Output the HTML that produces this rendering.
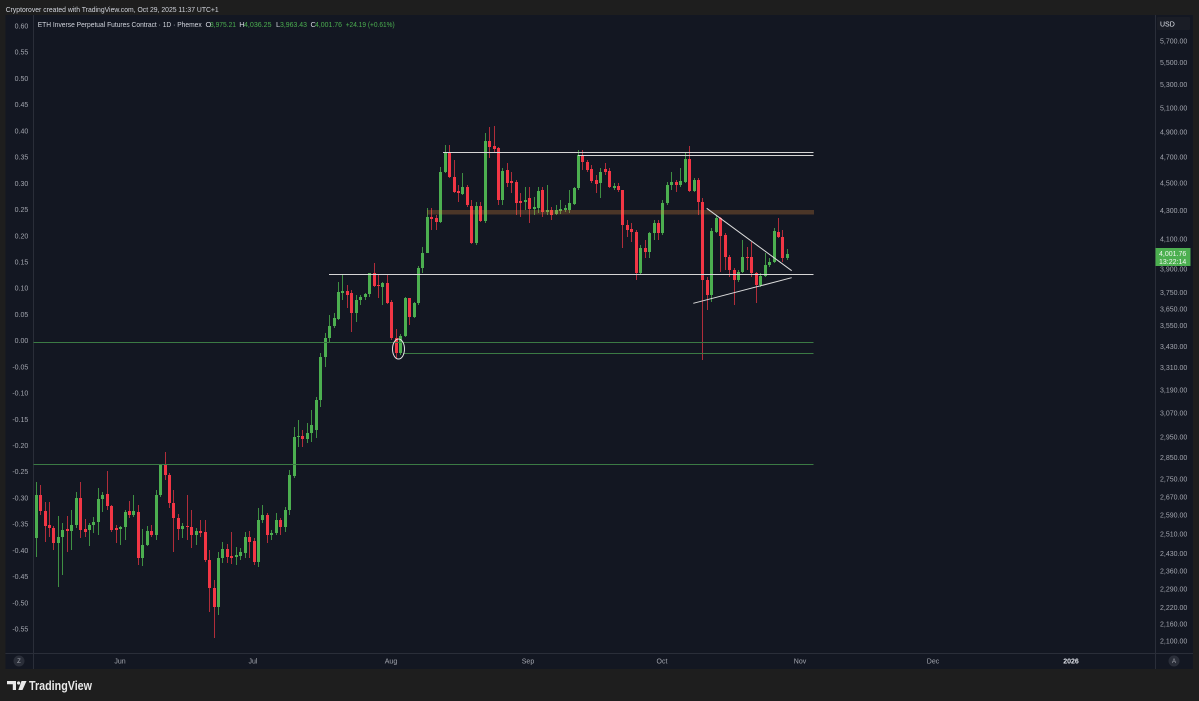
<!DOCTYPE html>
<html><head><meta charset="utf-8"><style>
html,body{margin:0;padding:0;background:#1e1e1e;}
svg{display:block;}
</style></head><body>
<svg width="1199" height="701" viewBox="0 0 1199 701" xmlns="http://www.w3.org/2000/svg" font-family="'Liberation Sans', Arial, sans-serif">
<rect x="0" y="0" width="1199" height="701" fill="#1e1e1e"/>
<rect x="5.5" y="15" width="1187.5" height="654" fill="#131722"/>
<!-- separators -->
<path d="M33.5 15V669M1155.5 15V669M5.5 653.5H1193" stroke="#2a2e39" stroke-width="1" fill="none"/>

<!-- credit -->
<text x="5.7" y="12" font-size="7.5" fill="#d1d4dc" textLength="213" lengthAdjust="spacingAndGlyphs">Cryptorover created with TradingView.com, Oct 29, 2025 11:37 UTC+1</text>
<!-- header -->
<text x="37.7" y="27" font-size="7.5" fill="#d1d4dc" textLength="164" lengthAdjust="spacingAndGlyphs">ETH Inverse Perpetual Futures Contract · 1D · Phemex</text>
<g font-size="7.5">
<text x="205.5" y="27" fill="#d1d4dc">O</text><text x="210" y="27" fill="#4caf50" textLength="26" lengthAdjust="spacingAndGlyphs">3,975.21</text>
<text x="239.3" y="27" fill="#d1d4dc">H</text><text x="244" y="27" fill="#4caf50" textLength="27.5" lengthAdjust="spacingAndGlyphs">4,036.25</text>
<text x="276" y="27" fill="#d1d4dc">L</text><text x="280" y="27" fill="#4caf50" textLength="27" lengthAdjust="spacingAndGlyphs">3,963.43</text>
<text x="310.5" y="27" fill="#d1d4dc">C</text><text x="315" y="27" fill="#4caf50" textLength="27" lengthAdjust="spacingAndGlyphs">4,001.76</text>
<text x="345.7" y="27" fill="#4caf50" textLength="49" lengthAdjust="spacingAndGlyphs">+24.19 (+0.61%)</text>
</g>

<!-- left axis -->
<g font-size="7" fill="#a3a6af" text-anchor="end">
<text x="28.3" y="28.5">0.60</text>
<text x="28.3" y="54.7">0.55</text>
<text x="28.3" y="80.9">0.50</text>
<text x="28.3" y="107.2">0.45</text>
<text x="28.3" y="133.4">0.40</text>
<text x="28.3" y="159.6">0.35</text>
<text x="28.3" y="185.8">0.30</text>
<text x="28.3" y="212">0.25</text>
<text x="28.3" y="238.3">0.20</text>
<text x="28.3" y="264.5">0.15</text>
<text x="28.3" y="290.7">0.10</text>
<text x="28.3" y="316.9">0.05</text>
<text x="28.3" y="343.1">0.00</text>
<text x="28.3" y="369.4">-0.05</text>
<text x="28.3" y="395.6">-0.10</text>
<text x="28.3" y="421.8">-0.15</text>
<text x="28.3" y="448">-0.20</text>
<text x="28.3" y="474.2">-0.25</text>
<text x="28.3" y="500.5">-0.30</text>
<text x="28.3" y="526.7">-0.35</text>
<text x="28.3" y="552.9">-0.40</text>
<text x="28.3" y="579.1">-0.45</text>
<text x="28.3" y="605.3">-0.50</text>
<text x="28.3" y="631.6">-0.55</text>
</g>

<!-- right axis -->
<rect x="1157" y="17" width="33" height="13" rx="1" fill="#1a1d26"/>
<text x="1160" y="26.3" font-size="7" fill="#e0e3eb">USD</text>
<g font-size="7" fill="#a3a6af">
<text x="1160" y="43.5">5,700.00</text>
<text x="1160" y="65">5,500.00</text>
<text x="1160" y="87.2">5,300.00</text>
<text x="1160" y="110.4">5,100.00</text>
<text x="1160" y="134.4">4,900.00</text>
<text x="1160" y="159.4">4,700.00</text>
<text x="1160" y="185.6">4,500.00</text>
<text x="1160" y="212.9">4,300.00</text>
<text x="1160" y="241.5">4,100.00</text>
<text x="1160" y="271.6">3,900.00</text>
<text x="1160" y="295.1">3,750.00</text>
<text x="1160" y="311.4">3,650.00</text>
<text x="1160" y="328.1">3,550.00</text>
<text x="1160" y="348.8">3,430.00</text>
<text x="1160" y="370.2">3,310.00</text>
<text x="1160" y="392.4">3,190.00</text>
<text x="1160" y="415.4">3,070.00</text>
<text x="1160" y="439.4">2,950.00</text>
<text x="1160" y="460.1">2,850.00</text>
<text x="1160" y="481.6">2,750.00</text>
<text x="1160" y="499.3">2,670.00</text>
<text x="1160" y="517.6">2,590.00</text>
<text x="1160" y="536.4">2,510.00</text>
<text x="1160" y="555.9">2,430.00</text>
<text x="1160" y="573.5">2,360.00</text>
<text x="1160" y="591.6">2,290.00</text>
<text x="1160" y="610.2">2,220.00</text>
<text x="1160" y="626.7">2,160.00</text>
<text x="1160" y="643.6">2,100.00</text>
</g>
<rect x="1155.5" y="248" width="35" height="18" fill="#4caf50"/>
<text x="1159" y="255.8" font-size="7" fill="#eef8ee">4,001.76</text>
<text x="1159" y="263.8" font-size="7" fill="#eef8ee">13:22:14</text>

<!-- time axis -->
<g font-size="7" fill="#a3a6af" text-anchor="middle">
<text x="120" y="663.5">Jun</text>
<text x="253" y="663.5">Jul</text>
<text x="391" y="663.5">Aug</text>
<text x="528" y="663.5">Sep</text>
<text x="662" y="663.5">Oct</text>
<text x="800" y="663.5">Nov</text>
<text x="933" y="663.5">Dec</text>
<text x="1071" y="663.5" fill="#e0e3eb" font-weight="bold">2026</text>
</g>
<circle cx="19" cy="661" r="5.5" fill="#2a2e39"/>
<text x="19" y="663.2" font-size="6" fill="#a3a6af" text-anchor="middle">Z</text>
<circle cx="1174" cy="661" r="5.5" fill="#2a2e39"/>
<text x="1174" y="663.2" font-size="6" fill="#a3a6af" text-anchor="middle">A</text>

<!-- candles: wicks -->
<path fill="none" stroke="#3f8f43" stroke-width="1" d="M36.5 482V557M58.5 516V587M62.5 523V575M71.5 510V550M76.5 492V528M89.5 523V546M93.5 517V533M98.5 488V535M102.5 492V512M120.5 526V545M125.5 510V540M133.5 495V517M142.5 529V566M147.5 526V546M156.5 490V540M160.5 464V497M182.5 523V538M196.5 528V545M218.5 552V615M222.5 542V563M236.5 547V565M240.5 548V560M245.5 532V558M258.5 508V567M262.5 505V523M271.5 530V540M276.5 513V535M285.5 507V532M289.5 470V515M294.5 427V478M298.5 420V447M307.5 423V443M311.5 410V442M316.5 397V438M320.5 353V407M325.5 333V367M329.5 315V342M334.5 313V328M338.5 282V320M342.5 275V300M356.5 295V322M360.5 295V305M365.5 293V300M369.5 273V297M382.5 282V305M400.5 334V355M405.5 297V337M414.5 302V318M418.5 266V305M422.5 247V273M427.5 208V253M440.5 167V223M445.5 145V173M462.5 173V195M476.5 202V245M485.5 133V223M502.5 168V205M525.5 187V210M534.5 197V215M538.5 187V213M547.5 185V215M556.5 205V215M560.5 200V214M565.5 205V212M569.5 190V213M574.5 187V205M578.5 150V190M600.5 168V198M614.5 183V190M640.5 245V275M649.5 232V258M654.5 220V240M662.5 200V235M667.5 182V205M671.5 172V190M680.5 168V187M685.5 153V183M694.5 178V192M711.5 228V302M716.5 215V233M738.5 270V282M742.5 240V273M760.5 273V287M765.5 253V277M769.5 258V267M774.5 228V263M787.5 249V260"/>
<path fill="none" stroke="#b02d3a" stroke-width="1" d="M40.5 485V515M45.5 502V542M49.5 502V537M53.5 526V550M67.5 516V552M80.5 482V538M85.5 519V537M107.5 471V510M111.5 505V532M116.5 525V543M129.5 501V518M138.5 505V565M151.5 525V537M165.5 452V480M169.5 473V508M173.5 490V552M178.5 514V540M187.5 495V540M191.5 510V548M200.5 520V537M205.5 520V562M209.5 550V612M214.5 580V638M227.5 544V563M231.5 532V564M249.5 531V558M254.5 538V565M267.5 513V543M280.5 518V535M302.5 430V447M347.5 285V308M351.5 290V332M374.5 263V287M378.5 275V298M387.5 274V304M391.5 300V340M396.5 329V359M409.5 298V325M431.5 208V230M436.5 215V230M449.5 145V178M454.5 160V193M458.5 185V202M467.5 185V207M471.5 200V244M480.5 202V222M489.5 127V158M494.5 126V153M498.5 147V205M507.5 163V187M511.5 172V193M516.5 180V215M520.5 193V217M529.5 187V223M542.5 187V217M551.5 207V220M582.5 150V170M587.5 160V172M591.5 165V183M596.5 175V193M605.5 163V175M609.5 168V188M618.5 183V192M622.5 190V248M627.5 220V237M631.5 223V242M636.5 230V280M645.5 240V258M658.5 220V240M676.5 180V192M689.5 146V192M698.5 178V215M702.5 198V360M707.5 277V310M720.5 217V272M725.5 233V270M729.5 255V277M734.5 268V305M747.5 247V270M751.5 242V277M756.5 272V303M778.5 218V238M782.5 230V262"/>
<!-- candles: bodies -->
<path fill="#4caf50" d="M35 495h3v43h-3zM57 537h3v6h-3zM61 530h3v7h-3zM70 525h3v6h-3zM75 498h3v27h-3zM88 525h3v5h-3zM92 522h3v3h-3zM97 499h3v23h-3zM101 495h3v4h-3zM119 527h3v2h-3zM124 512h3v15h-3zM132 511h3v4h-3zM141 545h3v13h-3zM146 531h3v14h-3zM155 495h3v40h-3zM159 465h3v30h-3zM181 526h3v3h-3zM195 531h3v4h-3zM217 558h3v49h-3zM221 549h3v9h-3zM235 555h3v2h-3zM239 552h3v4h-3zM244 537h3v16h-3zM257 520h3v42h-3zM261 515h3v5h-3zM270 533h3v2h-3zM275 520h3v13h-3zM284 510h3v17h-3zM288 475h3v35h-3zM293 437h3v39h-3zM297 436h3v1h-3zM306 433h3v6h-3zM310 425h3v8h-3zM315 400h3v30h-3zM319 357h3v43h-3zM324 338h3v19h-3zM328 326h3v12h-3zM333 318h3v8h-3zM337 292h3v27h-3zM341 291h3v2h-3zM355 300h3v13h-3zM359 297h3v3h-3zM364 294h3v3h-3zM368 273h3v21h-3zM381 283h3v4h-3zM399 336h3v17h-3zM404 298h3v38h-3zM413 303h3v14h-3zM417 268h3v35h-3zM421 253h3v15h-3zM426 217h3v36h-3zM439 172h3v50h-3zM444 152h3v20h-3zM461 187h3v7h-3zM475 206h3v37h-3zM484 141h3v80h-3zM501 171h3v29h-3zM524 200h3v2h-3zM533 207h3v2h-3zM537 191h3v17h-3zM546 210h3v2h-3zM555 210h3v4h-3zM559 209h3v2h-3zM564 208h3v2h-3zM568 203h3v7h-3zM573 188h3v16h-3zM577 155h3v33h-3zM599 172h3v11h-3zM613 186h3v2h-3zM639 248h3v25h-3zM648 233h3v19h-3zM653 223h3v10h-3zM661 203h3v30h-3zM666 185h3v18h-3zM670 182h3v3h-3zM679 181h3v4h-3zM684 159h3v23h-3zM693 180h3v11h-3zM710 231h3v64h-3zM715 218h3v14h-3zM737 272h3v8h-3zM741 257h3v15h-3zM759 276h3v9h-3zM764 265h3v11h-3zM768 262h3v3h-3zM773 231h3v31h-3zM786 254h3v4h-3z"/>
<path fill="#f23645" d="M39 495h3v16h-3zM44 511h3v15h-3zM48 525h3v3h-3zM52 528h3v15h-3zM66 529h3v2h-3zM79 498h3v32h-3zM84 529h3v3h-3zM106 494h3v12h-3zM110 506h3v24h-3zM115 528h3v2h-3zM128 511h3v4h-3zM137 512h3v46h-3zM150 531h3v4h-3zM164 465h3v10h-3zM168 475h3v28h-3zM172 503h3v15h-3zM177 518h3v11h-3zM186 526h3v1h-3zM190 527h3v8h-3zM199 531h3v2h-3zM204 532h3v28h-3zM208 560h3v28h-3zM213 588h3v19h-3zM226 549h3v8h-3zM230 556h3v2h-3zM248 537h3v5h-3zM253 541h3v21h-3zM266 515h3v20h-3zM279 520h3v7h-3zM301 436h3v3h-3zM346 291h3v4h-3zM350 293h3v20h-3zM373 273h3v13h-3zM377 285h3v1h-3zM386 283h3v20h-3zM390 302h3v36h-3zM395 338h3v15h-3zM408 298h3v19h-3zM430 217h3v2h-3zM435 218h3v4h-3zM448 152h3v25h-3zM453 177h3v15h-3zM457 191h3v2h-3zM466 187h3v18h-3zM470 206h3v37h-3zM479 206h3v15h-3zM488 141h3v6h-3zM493 146h3v3h-3zM497 148h3v52h-3zM506 170h3v13h-3zM510 181h3v2h-3zM515 182h3v21h-3zM519 201h3v2h-3zM528 198h3v11h-3zM541 190h3v22h-3zM550 210h3v5h-3zM581 155h3v7h-3zM586 162h3v8h-3zM590 169h3v12h-3zM595 180h3v4h-3zM604 169h3v3h-3zM608 171h3v16h-3zM617 186h3v4h-3zM621 190h3v35h-3zM626 225h3v5h-3zM630 229h3v3h-3zM635 232h3v41h-3zM644 248h3v4h-3zM657 223h3v10h-3zM675 182h3v3h-3zM688 159h3v32h-3zM697 180h3v22h-3zM701 202h3v78h-3zM706 280h3v15h-3zM719 218h3v18h-3zM724 235h3v22h-3zM728 257h3v13h-3zM733 270h3v10h-3zM746 257h3v1h-3zM750 257h3v16h-3zM755 273h3v12h-3zM777 232h3v5h-3zM781 237h3v21h-3z"/>

<!-- drawings -->
<rect x="427" y="210" width="387" height="4.5" fill="rgba(230,140,60,0.27)"/>
<path fill="none" stroke="#3b7a44" stroke-width="1" d="M33.5 342.5H813.5M403 353.5H813.5M33.5 464.5H813.5"/>
<path fill="none" stroke="#d6d6d6" stroke-width="1" d="M329 274.5H813.5M443 152.5H813.5M578 155.5H813.5"/>
<path fill="none" stroke="#dcdcdc" stroke-width="1" d="M706.7 208.3L791.7 270.7M693.3 303.3L791.7 277.7"/>
<ellipse cx="398.5" cy="349" rx="6" ry="10" fill="none" stroke="#e0e0e0" stroke-width="1"/>

<!-- logo -->
<g fill="#e8e8e8">
<path d="M7 681h9v9h-3.2v-5.8H7z"/>
<circle cx="18.6" cy="683" r="1.6"/>
<path d="M21.5 681h5l-4 9h-4.2z"/>
</g>
<text x="29" y="690" font-size="13" font-weight="bold" fill="#e8e8e8" textLength="63" lengthAdjust="spacingAndGlyphs">TradingView</text>
</svg>
</body></html>
